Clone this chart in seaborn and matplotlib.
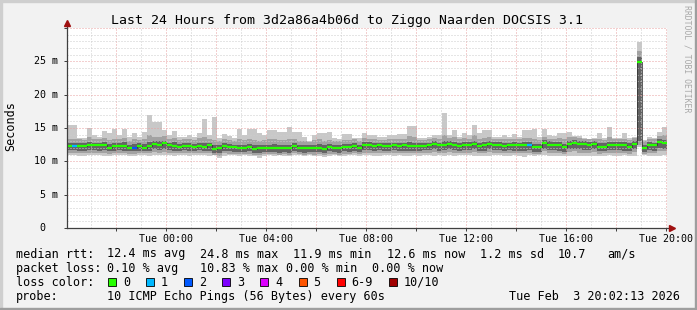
import numpy as np
import pandas as pd
import matplotlib
matplotlib.use("Agg")
import matplotlib.pyplot as plt
import matplotlib.dates as mdates
from matplotlib.ticker import MultipleLocator, FuncFormatter, NullFormatter
from matplotlib.patches import Rectangle
from matplotlib.transforms import blended_transform_factory
import seaborn as sns

# ---------------- data ----------------
title = "Last 24 Hours from 3d2a86a4b06d to Ziggo Naarden DOCSIS 3.1"
end_time = "2026-02-03 20:02:13"
step = "12min"

median_ms = [
    12.35, 12.35, 12.35, 12.35, 12.4, 12.4, 12.4, 12.4, 12.05, 12.35, 12.35, 12.35, 12.05, 12.05, 12.35, 12.05, 12.35, 12.55, 12.5, 12.7,
    12.4, 12.35, 12.2, 12.35, 12.35, 12.2, 12.35, 12.1, 12.4, 11.8, 11.95, 12.35, 12.1, 12.1, 12.0, 12.0, 12.1, 11.9, 12.0, 12.05,
    12.0, 12.05, 11.95, 12.05, 11.95, 12.35, 12.0, 11.95, 11.95, 12.05, 12.05, 11.85, 12.1, 12.05, 11.95, 12.1, 12.1, 12.35, 12.05, 12.45,
    12.45, 12.35, 12.4, 12.3, 12.35, 12.4, 12.3, 12.4, 12.35, 12.3, 12.3, 12.35, 12.4, 12.55, 12.4, 12.45, 12.6, 12.45, 12.35, 12.45,
    12.45, 12.65, 12.25, 12.4, 12.65, 12.45, 12.45, 12.25, 12.4, 12.4, 12.4, 12.4, 12.4, 12.1, 12.1, 12.75, 12.5, 12.45, 12.45, 12.1,
    12.6, 12.75, 12.6, 12.55, 12.45, 12.55, 12.2, 12.2, 12.45, 12.45, 12.45, 12.45, 12.2, 12.55, 24.9, 12.05, 12.5, 12.4, 12.95, 12.7,
]
max_ms = [
    15.45, 15.45, 13.45, 13.45, 14.95, 14.0, 13.7, 14.5, 14.2, 14.85, 13.95, 14.85, 13.7, 14.3, 13.7, 14.4, 17.0, 15.95, 15.95, 14.7,
    13.95, 14.5, 13.7, 13.7, 13.95, 13.7, 14.2, 16.3, 13.95, 16.7, 13.45, 14.1, 13.8, 13.45, 14.85, 13.95, 14.85, 14.85, 14.2, 13.95,
    14.7, 14.7, 14.45, 14.45, 15.1, 14.45, 14.45, 13.7, 13.05, 13.95, 14.2, 14.2, 14.45, 13.45, 13.35, 14.05, 14.05, 13.45, 13.45, 14.2,
    13.95, 13.95, 13.7, 13.7, 13.95, 13.95, 14.05, 14.05, 15.3, 15.3, 13.45, 13.45, 13.7, 13.95, 13.95, 17.3, 13.95, 14.7, 13.7, 14.2,
    13.95, 15.45, 14.2, 14.7, 14.7, 13.7, 13.7, 13.95, 13.7, 14.05, 13.7, 14.7, 14.7, 14.85, 13.7, 14.85, 13.95, 13.85, 14.2, 14.2,
    14.35, 13.85, 13.85, 13.45, 13.2, 13.45, 14.2, 13.45, 15.1, 13.45, 13.45, 14.2, 13.45, 13.7, 27.9, 13.2, 13.7, 13.45, 14.35, 15.2,
]
hi_ms = [
    13.4, 13.3, 13.3, 13.2, 13.6, 13.4, 13.3, 13.5, 13.2, 13.4, 13.3, 13.5, 13.1, 13.3, 13.2, 13.4, 13.9, 13.7, 13.6, 13.8,
    13.4, 13.5, 13.2, 13.3, 13.4, 13.2, 13.5, 13.6, 13.4, 13.2, 13.0, 13.3, 13.2, 13.1, 13.3, 13.2, 13.4, 13.2, 13.1, 13.2,
    13.3, 13.3, 13.2, 13.2, 13.4, 13.4, 13.1, 13.0, 12.9, 13.2, 13.3, 13.0, 13.2, 13.0, 13.0, 13.2, 13.2, 13.3, 13.1, 13.5,
    13.4, 13.3, 13.2, 13.2, 13.4, 13.3, 13.3, 13.3, 13.8, 13.7, 13.2, 13.2, 13.3, 13.5, 13.4, 13.9, 13.5, 13.7, 13.3, 13.5,
    13.4, 13.9, 13.3, 13.5, 13.6, 13.3, 13.3, 13.3, 13.3, 13.4, 13.3, 13.5, 13.5, 13.4, 13.2, 13.7, 13.4, 13.4, 13.5, 13.3,
    13.6, 13.6, 13.5, 13.4, 13.3, 13.4, 13.4, 13.2, 13.6, 13.3, 13.3, 13.4, 13.2, 13.5, 26.5, 13.0, 13.4, 13.3, 13.8, 13.9,
]
core_hi_ms = [
    12.8, 12.8, 12.7, 12.7, 12.9, 12.8, 12.8, 12.9, 12.6, 12.8, 12.8, 12.9, 12.5, 12.6, 12.7, 12.6, 12.9, 13.0, 13.0, 13.1,
    12.8, 12.9, 12.6, 12.8, 12.8, 12.6, 12.8, 12.7, 12.8, 12.4, 12.4, 12.8, 12.6, 12.5, 12.5, 12.5, 12.6, 12.4, 12.5, 12.5,
    12.5, 12.6, 12.4, 12.5, 12.5, 12.8, 12.5, 12.4, 12.4, 12.5, 12.6, 12.4, 12.6, 12.5, 12.4, 12.6, 12.6, 12.8, 12.5, 12.9,
    12.9, 12.8, 12.8, 12.7, 12.8, 12.8, 12.7, 12.8, 12.9, 12.8, 12.7, 12.8, 12.8, 13.0, 12.8, 13.0, 13.0, 12.9, 12.8, 12.9,
    12.9, 13.1, 12.7, 12.9, 13.1, 12.9, 12.9, 12.7, 12.8, 12.9, 12.8, 12.9, 12.9, 12.6, 12.6, 13.2, 13.0, 12.9, 12.9, 12.6,
    13.1, 13.2, 13.0, 13.0, 12.9, 13.0, 12.7, 12.7, 12.9, 12.9, 12.9, 12.9, 12.7, 13.0, 25.6, 12.5, 12.9, 12.8, 13.4, 13.2,
]
core_lo_ms = [
    11.7, 11.7, 11.6, 11.6, 11.7, 11.7, 11.6, 11.7, 11.5, 11.6, 11.7, 11.6, 11.5, 11.5, 11.6, 11.5, 11.6, 11.8, 11.7, 11.8,
    11.7, 11.6, 11.6, 11.7, 11.6, 11.5, 11.7, 11.5, 11.6, 11.2, 11.3, 11.6, 11.5, 11.4, 11.4, 11.4, 11.5, 11.3, 11.3, 11.4,
    11.4, 11.4, 11.3, 11.4, 11.3, 11.6, 11.4, 11.3, 11.4, 11.4, 11.4, 11.2, 11.5, 11.4, 11.3, 11.5, 11.4, 11.6, 11.4, 11.7,
    11.7, 11.6, 11.7, 11.6, 11.6, 11.7, 11.6, 11.6, 11.6, 11.6, 11.6, 11.7, 11.7, 11.8, 11.6, 11.7, 11.8, 11.7, 11.6, 11.7,
    11.7, 11.8, 11.5, 11.6, 11.8, 11.7, 11.7, 11.5, 11.7, 11.6, 11.6, 11.6, 11.7, 11.4, 11.4, 11.9, 11.7, 11.7, 11.6, 11.4,
    11.8, 11.9, 11.8, 11.7, 11.7, 11.8, 11.5, 11.5, 11.7, 11.7, 11.7, 11.6, 11.5, 11.8, 13.0, 11.4, 11.7, 11.6, 12.0, 11.9,
]
lo_ms = [
    11.3, 11.3, 11.2, 11.2, 11.3, 11.3, 11.2, 11.3, 11.1, 11.2, 11.3, 11.2, 11.1, 11.1, 11.2, 11.2, 11.2, 11.4, 11.3, 11.4,
    11.3, 11.2, 11.3, 11.3, 11.2, 11.2, 11.3, 11.2, 11.2, 10.9, 10.8, 11.2, 11.1, 11.1, 11.1, 11.1, 11.1, 11.0, 10.9, 11.1,
    11.1, 11.1, 11.0, 11.1, 11.0, 11.2, 11.1, 11.0, 11.1, 11.0, 11.1, 10.9, 11.1, 11.1, 11.0, 11.1, 11.1, 11.2, 11.1, 11.3,
    11.3, 11.2, 11.3, 11.2, 11.3, 11.3, 11.2, 11.2, 11.2, 11.3, 11.2, 11.3, 11.3, 11.4, 11.2, 11.3, 11.4, 11.3, 11.2, 11.3,
    11.3, 11.4, 11.2, 11.2, 11.4, 11.3, 11.3, 11.2, 11.3, 11.2, 11.2, 11.2, 11.3, 11.1, 11.1, 11.5, 11.3, 11.3, 11.2, 11.1,
    11.4, 11.5, 11.3, 11.3, 11.3, 11.4, 11.1, 11.2, 11.3, 11.3, 11.3, 11.3, 11.1, 11.4, 12.5, 11.1, 11.3, 11.2, 11.5, 11.5,
]
min_ms = [
    11.0, 10.9, 10.8, 10.8, 10.9, 10.95, 10.9, 10.85, 10.8, 10.9, 10.95, 10.9, 10.8, 10.85, 10.9, 10.95, 10.85, 10.9, 10.95, 10.9,
    10.9, 10.85, 10.95, 10.9, 10.85, 10.9, 10.95, 10.9, 10.85, 10.9, 10.45, 10.8, 10.9, 10.95, 10.85, 10.9, 10.8, 10.85, 10.5, 10.85,
    10.9, 10.85, 10.9, 10.8, 10.85, 10.9, 10.95, 10.85, 10.9, 10.8, 10.85, 10.7, 10.85, 10.9, 10.8, 10.85, 10.9, 10.95, 10.85, 10.9,
    10.9, 10.85, 10.8, 10.9, 10.95, 10.85, 10.9, 10.8, 10.85, 10.9, 10.85, 10.95, 10.9, 10.85, 10.9, 10.8, 10.9, 10.85, 10.9, 10.95,
    10.9, 10.8, 10.85, 10.75, 10.8, 10.9, 10.95, 10.85, 10.8, 10.9, 10.85, 10.7, 10.9, 10.85, 10.95, 10.9, 10.75, 10.85, 10.8, 10.75,
    10.8, 10.85, 10.75, 10.8, 10.85, 10.8, 10.75, 10.85, 10.9, 10.8, 10.85, 10.9, 10.8, 10.75, 12.2, 10.9, 10.85, 10.8, 10.75, 10.95,
]
loss_level = [
    0, 1, 0, 0, 0, 0, 0, 0, 0, 0, 0, 0, 0, 2, 0, 0, 0, 0, 0, 0,
    0, 0, 0, 0, 0, 0, 0, 0, 0, 0, 0, 0, 0, 0, 0, 0, 0, 0, 0, 0,
    0, 0, 0, 0, 0, 0, 0, 0, 0, 0, 0, 0, 0, 0, 0, 0, 0, 0, 0, 0,
    0, 0, 0, 0, 0, 0, 0, 0, 0, 0, 0, 0, 0, 0, 0, 0, 0, 0, 0, 0,
    0, 0, 0, 0, 0, 0, 0, 0, 0, 0, 0, 0, 1, 0, 0, 0, 0, 0, 0, 0,
    0, 0, 0, 0, 0, 0, 0, 0, 0, 0, 0, 0, 0, 0, 0, 0, 0, 0, 0, 0,
]
loss_labels = ["0", "1", "2", "3", "4", "5", "6-9", "10/10"]
loss_colors = ["#26ff00", "#00b8ff", "#0059ff", "#7e00ff", "#dd00ff", "#ff5500", "#ff0000", "#a10000"]

ytick_vals = [0, 5, 10, 15, 20, 25]
ytick_labels = [" 0  ", " 5 m", "10 m", "15 m", "20 m", "25 m"]

stats_rtt = [("median rtt:", 16), ("12.4 ms avg", 107), ("24.8 ms max", 200), ("11.9 ms min", 293),
             ("12.6 ms now", 386.5), ("1.2 ms sd", 480), ("10.7", 558), ("am/s", 607)]
stats_loss = [("packet loss:", 16), ("0.10 % avg", 107), ("10.83 % max", 200), ("0.00 % min", 286.5),
              ("0.00 % now", 371.5)]
probe_text = "10 ICMP Echo Pings (56 Bytes) every 60s"
stamp_text = "Tue Feb  3 20:02:13 2026"

# ---------------- figure ----------------
W, H = 697, 310
MONO = ["DejaVu Sans Mono", "DejaVu Sans"]
plt.rcParams["font.family"] = MONO

fig = plt.figure(figsize=(W / 100, H / 100), dpi=100, facecolor="#f2f2f2")
px = lambda x: x / W
py = lambda y: 1 - y / H

# 3D shade border
fig.patches.extend([
    Rectangle((0, 1 - 2 / H), 1, 2 / H, transform=fig.transFigure, color="#cfcfcf", zorder=0),
    Rectangle((0, 0), 2 / W, 1, transform=fig.transFigure, color="#cfcfcf", zorder=0),
    Rectangle((0, 0), 1, 2 / H, transform=fig.transFigure, color="#9e9e9e", zorder=0),
    Rectangle((1 - 2 / W, 0), 2 / W, 1, transform=fig.transFigure, color="#9e9e9e", zorder=0),
])

ax = fig.add_axes([67 / W, 82 / H, 600 / W, 200 / H])
ax.set_facecolor("white")

edges = pd.date_range(end=end_time, periods=len(median_ms) + 1, freq=step)
xe = mdates.date2num(edges)

# smoke
ax.stairs(max_ms, xe, baseline=min_ms, fill=True, color="#c8c8c8", lw=0, zorder=1)
ax.stairs(hi_ms, xe, baseline=lo_ms, fill=True, color="#a2a2a2", lw=0, zorder=1.1)
ax.stairs(core_hi_ms, xe, baseline=core_lo_ms, fill=True, color="#646464", lw=0, zorder=1.2)

# median step line (dark) via seaborn
df = pd.DataFrame({"t": xe, "rtt": median_ms + [median_ms[-1]]})
sns.lineplot(data=df, x="t", y="rtt", drawstyle="steps-post", color="#303030",
             lw=0.55, ax=ax, zorder=3, estimator=None)
# loss-coloured median segments
ax.hlines(median_ms, xe[:-1], xe[1:], colors=[loss_colors[l] for l in loss_level],
          lw=1.6, zorder=4)

ax.set_xlim(xe[0], xe[-1])
ax.set_ylim(0, 30)
ax.set_xlabel("")
ax.set_ylabel("")

# grid
ax.xaxis.set_major_locator(mdates.HourLocator(byhour=range(0, 24, 2)))
ax.xaxis.set_minor_locator(mdates.HourLocator())
def xfmt(v, pos):
    d = mdates.num2date(v)
    return d.strftime("%a %H:%M") if d.hour % 4 == 0 else ""
ax.xaxis.set_major_formatter(FuncFormatter(xfmt))
ax.yaxis.set_major_locator(MultipleLocator(5))
ax.yaxis.set_minor_locator(MultipleLocator(1))
ax.yaxis.set_major_formatter(NullFormatter())
ax.set_axisbelow(False)
ax.grid(which="major", color="#e8a0a0", ls=(0, (1, 2)), lw=0.72, zorder=2.5)
ax.grid(which="minor", color="#cccccc", ls=(0, (1, 2)), lw=0.72, zorder=2.4)

for s in ax.spines.values():
    s.set_visible(False)
ax.tick_params(axis="x", which="major", length=2, width=0.72, color="#404040",
               labelsize=7.2, pad=2.5)
ax.tick_params(axis="y", which="major", length=2, width=0.72, color="#404040")
ax.tick_params(which="minor", length=0)

# y tick labels (monospace, padded)
ytr = blended_transform_factory(fig.transFigure, ax.transData)
for v, lab in zip(ytick_vals, ytick_labels):
    ax.text(px(34.5), v, lab, transform=ytr, ha="left", va="center", fontsize=7.2)

# axis lines with arrows
ax.plot([0, 0], [0, 1.01], transform=ax.transAxes, color="#404040", lw=0.9, clip_on=False, zorder=5)
ax.plot([0, 1.004], [0, 0], transform=ax.transAxes, color="#404040", lw=0.9, clip_on=False, zorder=5)
ax.plot([0], [1.025], marker="^", ms=4, color="#a01010", transform=ax.transAxes, clip_on=False, zorder=6)
ax.plot([1.009], [0], marker=">", ms=4, color="#a01010", transform=ax.transAxes, clip_on=False, zorder=6)

# texts
fig.text(px(347), py(24), title, ha="center", va="baseline", fontsize=9.5)
fig.text(px(10.5), py(126), "Seconds", rotation=90, ha="center", va="center", fontsize=8.5)
fig.text(px(687), py(59), "RRDTOOL / TOBI OETIKER", rotation=270, ha="center", va="center",
         fontsize=5.9, color="#a8a8a8")

FS = 8.5
for txt, x in stats_rtt:
    fig.text(px(x), py(257.5), txt, ha="left", va="baseline", fontsize=FS)
for txt, x in stats_loss:
    fig.text(px(x), py(271.7), txt, ha="left", va="baseline", fontsize=FS)

fig.text(px(16), py(285.9), "loss color:", ha="left", va="baseline", fontsize=FS)
cw = 7.1
xb = 108
for lab, col in zip(loss_labels, loss_colors):
    fig.patches.append(Rectangle((px(xb), py(286)), 8 / W, 8 / H, transform=fig.transFigure,
                                 facecolor=col, edgecolor="black", lw=0.6, zorder=3))
    fig.text(px(xb + 15), py(285.9), lab, ha="left", va="baseline", fontsize=FS)
    xb = xb + 15 + len(lab) * cw + 16

fig.text(px(16), py(300.1), "probe:", ha="left", va="baseline", fontsize=FS)
fig.text(px(107), py(300.1), probe_text, ha="left", va="baseline", fontsize=FS)
fig.text(px(680), py(300.1), stamp_text, ha="right", va="baseline", fontsize=FS)

fig.savefig("out.png", dpi=100, facecolor=fig.get_facecolor())
